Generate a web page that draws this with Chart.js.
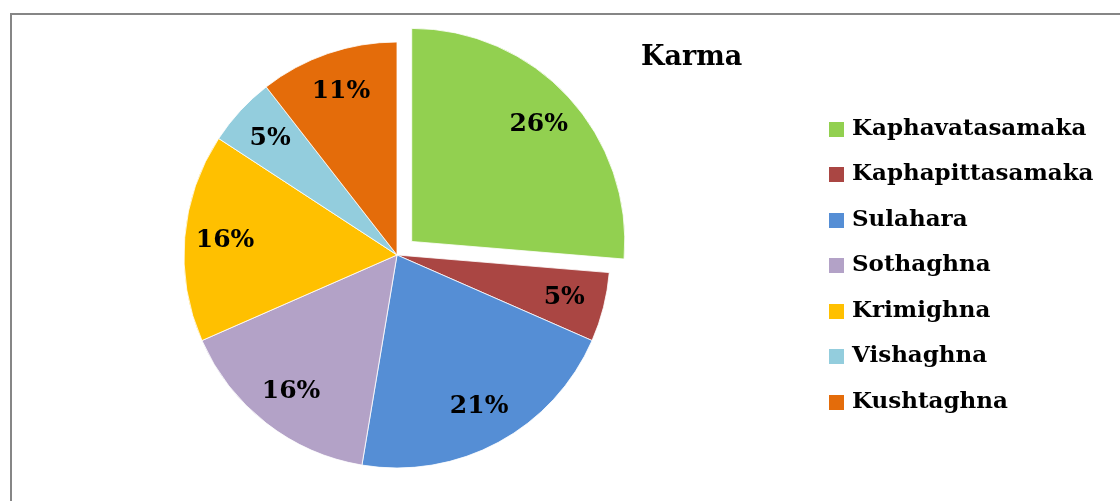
<!DOCTYPE html>
<html>
<head>
<meta charset="utf-8">
<script src="https://cdn.jsdelivr.net/npm/chart.js@4.4.1/dist/chart.umd.min.js"></script>
<style>
  html, body { margin: 0; padding: 0; background: #fff; }
  #wrap { position: relative; width: 1120px; height: 501px; }
</style>
</head>
<body>
<div id="wrap"><canvas id="c" width="1120" height="501"></canvas></div>
<script>
const chartTitle = 'Karma';
const categories = ['Kaphavatasamaka', 'Kaphapittasamaka', 'Sulahara', 'Sothaghna', 'Krimighna', 'Vishaghna', 'Kushtaghna'];
const counts = [5, 1, 4, 3, 3, 1, 2];
const percentLabels = ['26%', '5%', '21%', '16%', '16%', '5%', '11%'];
const sliceColors = ['#92d050', '#aa4643', '#558ed5', '#b3a2c7', '#ffc000', '#93cddd', '#e46c0a'];
const explodedIndex = 0;

const FONT = '"DejaVu Serif", serif';

const framePlugin = {
  id: 'frame',
  beforeDraw(chart) {
    const ctx = chart.ctx;
    ctx.save();
    ctx.fillStyle = '#fff';
    ctx.fillRect(0, 0, chart.width, chart.height);
    ctx.strokeStyle = '#868686';
    ctx.lineWidth = 2;
    ctx.beginPath();
    ctx.moveTo(11, chart.height + 5);
    ctx.lineTo(11, 14);
    ctx.lineTo(chart.width + 5, 14);
    ctx.stroke();
    ctx.restore();
  }
};

const labelPlugin = {
  id: 'labels',
  afterDraw(chart) {
    const ctx = chart.ctx;
    const meta = chart.getDatasetMeta(0);
    ctx.save();
    ctx.fillStyle = '#000';
    ctx.textAlign = 'center';
    ctx.textBaseline = 'middle';
    ctx.font = 'bold 25px ' + FONT;
    meta.data.forEach((arc, i) => {
      const mid = (arc.startAngle + arc.endAngle) / 2;
      const off = (arc.options.offset || 0) / 4;
      const r = arc.outerRadius * 0.81;
      const x = arc.x + Math.cos(mid) * (r + off);
      const y = arc.y + Math.sin(mid) * (r + off);
      ctx.fillText(percentLabels[i], x, y);
    });
    // title
    ctx.textAlign = 'left';
    ctx.font = 'bold 27px ' + FONT;
    ctx.fillText(chartTitle, 641, 58);
    // legend
    ctx.font = 'bold 23px ' + FONT;
    categories.forEach((name, i) => {
      const cy = 129 + i * 45.5;
      ctx.fillStyle = sliceColors[i];
      ctx.fillRect(829, Math.round(cy - 7.5), 15, 15);
      ctx.fillStyle = '#000';
      ctx.fillText(name, 852, cy);
    });
    ctx.restore();
  }
};

new Chart(document.getElementById('c'), {
  type: 'pie',
  data: {
    labels: categories,
    datasets: [{
      data: counts,
      backgroundColor: sliceColors,
      borderColor: '#ffffff',
      borderWidth: 0.8,
      offset: counts.map((v, i) => i === explodedIndex ? 80 : 0)
    }]
  },
  options: {
    responsive: false,
    animation: false,
    radius: 213,
    layout: { padding: { left: 0, right: 326, top: 9, bottom: 0 } },
    plugins: {
      legend: { display: false },
      tooltip: { enabled: false },
      title: { display: false }
    }
  },
  plugins: [framePlugin, labelPlugin]
});
</script>
</body>
</html>
